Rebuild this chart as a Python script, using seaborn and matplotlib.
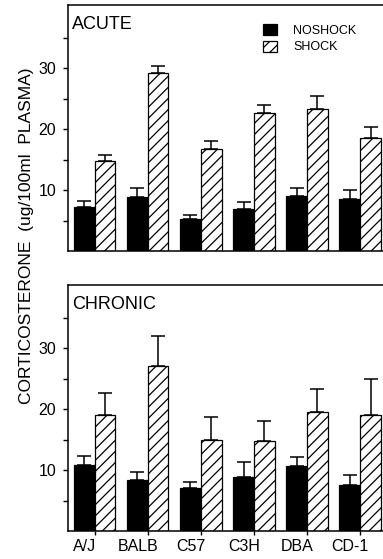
import matplotlib
matplotlib.use("Agg")
import matplotlib.pyplot as plt
import matplotlib.transforms as mtransforms
import numpy as np
import pandas as pd
import seaborn as sns

STRAINS = ["A/J", "BALB", "C57", "C3H", "DBA", "CD-1"]
GROUPS = ["NOSHOCK", "SHOCK"]

ACUTE_NOSHOCK = [7.2, 8.9, 5.2, 6.9, 9.1, 8.6]
ACUTE_NOSHOCK_ERR = [1.0, 1.4, 0.7, 1.2, 1.2, 1.4]
ACUTE_SHOCK = [14.7, 29.3, 16.7, 22.6, 23.4, 18.5]
ACUTE_SHOCK_ERR = [1.1, 1.1, 1.3, 1.4, 2.1, 1.8]

CHRONIC_NOSHOCK = [10.8, 8.4, 7.1, 8.9, 10.7, 7.5]
CHRONIC_NOSHOCK_ERR = [1.5, 1.3, 1.0, 2.5, 1.5, 1.7]
CHRONIC_SHOCK = [19.1, 27.1, 14.9, 14.8, 19.5, 19.0]
CHRONIC_SHOCK_ERR = [3.5, 5.0, 3.9, 3.2, 3.8, 5.9]

sns.set_style("ticks")
plt.rcParams.update({
    "font.family": ["Liberation Sans", "DejaVu Sans"],
    "axes.linewidth": 1.1,
    "axes.edgecolor": "black",
    "text.color": "black",
    "axes.labelcolor": "black",
    "xtick.color": "black",
    "ytick.color": "black",
    "hatch.linewidth": 0.9,
    "hatch.color": "black",
})

W, H = 383, 559
fig = plt.figure(figsize=(W / 100, H / 100), dpi=100)


def px_axes(left, top, right, bottom):
    return fig.add_axes([left / W, 1 - bottom / H, (right - left) / W, (bottom - top) / H])


def draw_panel(ax, noshock, noshock_err, shock, shock_err, title, show_labels):
    df = pd.DataFrame({
        "strain": STRAINS * 2,
        "group": [GROUPS[0]] * len(STRAINS) + [GROUPS[1]] * len(STRAINS),
        "value": noshock + shock,
    })
    sns.barplot(data=df, x="strain", y="value", hue="group", order=STRAINS,
                hue_order=GROUPS, palette={"NOSHOCK": "black", "SHOCK": "white"},
                edgecolor="black", linewidth=0.9, width=0.78, saturation=1,
                errorbar=None, legend=False, ax=ax)
    for bar in ax.containers[1]:
        bar.set_hatch("///")

    # one-sided error bars, up from the bar top
    for cont, err in zip(ax.containers, [noshock_err, shock_err]):
        xs = [b.get_x() + b.get_width() / 2 for b in cont]
        ys = [b.get_height() for b in cont]
        ax.errorbar(xs, ys, yerr=[np.zeros(len(err)), err], fmt="none",
                    ecolor="black", elinewidth=1.1, capsize=5, capthick=1.1, zorder=3)

    ax.set_xlim(-0.5, 5.43)
    ax.set_ylim(0, 40.4)
    ax.set_yticks([10, 20, 30])
    ax.set_yticks([5, 15, 25, 35], minor=True)
    ax.tick_params(axis="y", which="both", direction="out", length=3.5, width=1,
                   labelsize=11.5, pad=5)
    ax.set_xlabel("")
    ax.set_ylabel("")
    ax.spines["right"].set_visible(False)
    ax.text(0.013, 0.955, title, transform=ax.transAxes, ha="left", va="top", fontsize=13)

    if show_labels:
        ax.tick_params(axis="x", length=3, width=1, labelsize=11.5, pad=3)
        offset = mtransforms.ScaledTranslation(-10 / 100, 0, fig.dpi_scale_trans)
        for lab in ax.get_xticklabels():
            lab.set_transform(lab.get_transform() + offset)
    else:
        ax.tick_params(axis="x", length=0, labelbottom=False)


ax1 = px_axes(68, 5, 383, 251)
draw_panel(ax1, ACUTE_NOSHOCK, ACUTE_NOSHOCK_ERR, ACUTE_SHOCK, ACUTE_SHOCK_ERR, "ACUTE", False)
ax1.legend(handles=list(ax1.containers[:2]), labels=GROUPS, loc="upper left",
           bbox_to_anchor=(263 / W, 1 - 24 / H), bbox_transform=fig.transFigure,
           frameon=False, fontsize=9, handlelength=1.1, handleheight=1.0,
           handletextpad=1.3, labelspacing=0.3, borderpad=0, borderaxespad=0)

ax2 = px_axes(68, 285, 383, 531)
draw_panel(ax2, CHRONIC_NOSHOCK, CHRONIC_NOSHOCK_ERR, CHRONIC_SHOCK, CHRONIC_SHOCK_ERR, "CHRONIC", True)

fig.text(27 / W, 1 - 236 / H, "CORTICOSTERONE  (ug/100ml  PLASMA)", rotation=90,
         ha="center", va="center", fontsize=12.5)

fig.savefig("out.png", dpi=100)
